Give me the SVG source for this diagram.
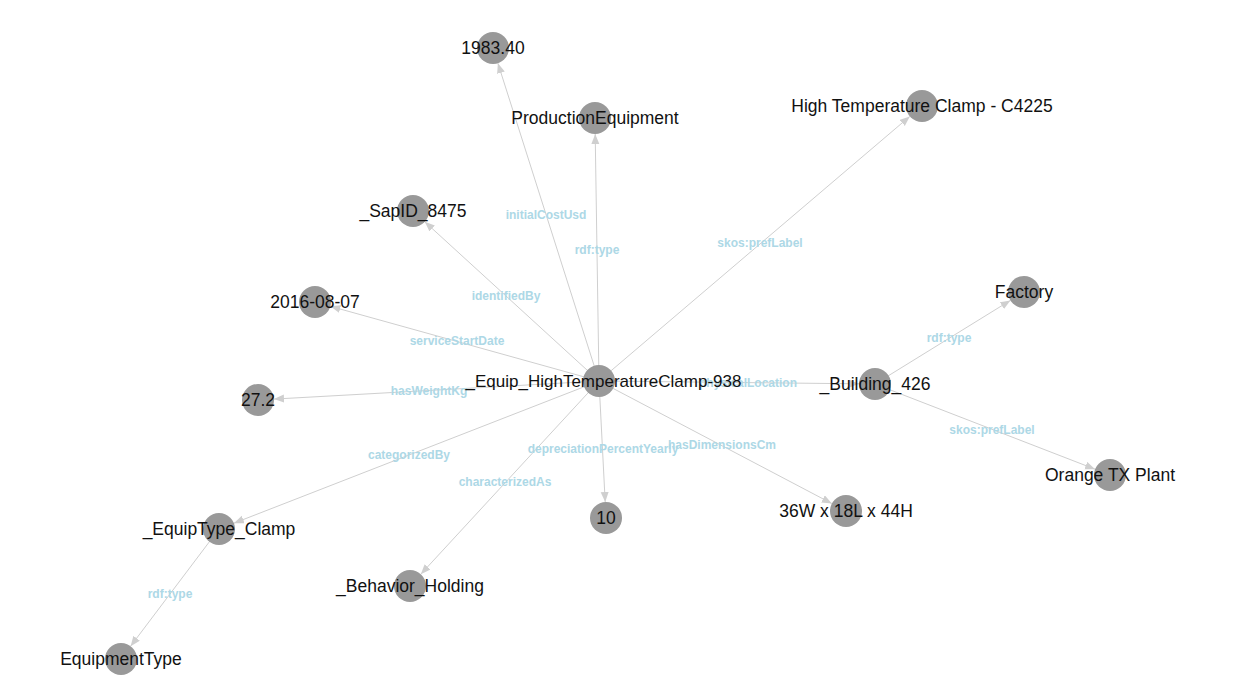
<svg xmlns="http://www.w3.org/2000/svg" width="1241" height="690" viewBox="0 0 1241 690">
<style>
.edge{stroke:#cfcfcf;stroke-width:1;fill:none;marker-end:url(#arr)}
.el{font-family:"Liberation Sans",Arial,sans-serif;font-size:12px;font-weight:bold;fill:#add8e6;text-anchor:middle}
.node circle{fill:#999999}
.node text{font-family:"Liberation Sans",Arial,sans-serif;font-size:17.5px;fill:#111;text-anchor:middle}
</style>
<defs>
<marker id="arr" markerUnits="userSpaceOnUse" markerWidth="11" markerHeight="9" refX="10" refY="4" orient="auto">
<path d="M0,0 L10,4 L0,8 z" fill="#cfcfcf"/>
</marker>
</defs>
<rect width="1241" height="690" fill="#ffffff"/>
<g id="connectors">
<line class="edge" x1="599" y1="381" x2="497.9" y2="63.2"/>
<line class="edge" x1="599" y1="381" x2="595.2" y2="134"/>
<line class="edge" x1="599" y1="381" x2="909.8" y2="116.4"/>
<line class="edge" x1="599" y1="381" x2="424.8" y2="221.8"/>
<line class="edge" x1="599" y1="381" x2="330.4" y2="306.3"/>
<line class="edge" x1="599" y1="381" x2="274" y2="399.1"/>
<line class="edge" x1="599" y1="381" x2="859" y2="383.8"/>
<line class="edge" x1="875" y1="384" x2="1010.4" y2="300.4"/>
<line class="edge" x1="875" y1="384" x2="1095.1" y2="469.2"/>
<line class="edge" x1="599" y1="381" x2="605.2" y2="502"/>
<line class="edge" x1="599" y1="381" x2="831.8" y2="503.5"/>
<line class="edge" x1="599" y1="381" x2="233.9" y2="523.2"/>
<line class="edge" x1="599" y1="381" x2="420.8" y2="574.2"/>
<line class="edge" x1="219" y1="529" x2="130.6" y2="646.2"/>
<text class="el" x="546" y="219">initialCostUsd</text>
<text class="el" x="597" y="254">rdf:type</text>
<text class="el" x="760" y="247">skos:prefLabel</text>
<text class="el" x="506" y="300">identifiedBy</text>
<text class="el" x="457" y="345">serviceStartDate</text>
<text class="el" x="429" y="395">hasWeightKg</text>
<text class="el" x="748" y="387">physicalLocation</text>
<text class="el" x="949" y="342">rdf:type</text>
<text class="el" x="992" y="434">skos:prefLabel</text>
<text class="el" x="409" y="459">categorizedBy</text>
<text class="el" x="603" y="453">depreciationPercentYearly</text>
<text class="el" x="722" y="449">hasDimensionsCm</text>
<text class="el" x="505" y="486">characterizedAs</text>
<text class="el" x="170" y="598">rdf:type</text>
</g>
<g id="n-center" class="node"><circle cx="599" cy="381" r="16"/><text x="603.5" y="387" style="font-size:17px">_Equip_HighTemperatureClamp-938</text></g>
<g id="n-cost" class="node"><circle cx="493" cy="48" r="16"/><text x="493" y="54">1983.40</text></g>
<g id="n-prodequip" class="node"><circle cx="595" cy="118" r="16"/><text x="595" y="124">ProductionEquipment</text></g>
<g id="n-label" class="node"><circle cx="922" cy="106" r="16"/><text x="922" y="112">High Temperature Clamp - C4225</text></g>
<g id="n-sapid" class="node"><circle cx="413" cy="211" r="16"/><text x="413" y="217">_SapID_8475</text></g>
<g id="n-factory" class="node"><circle cx="1024" cy="292" r="16"/><text x="1024" y="298">Factory</text></g>
<g id="n-date" class="node"><circle cx="315" cy="302" r="16"/><text x="315" y="308">2016-08-07</text></g>
<g id="n-building" class="node"><circle cx="875" cy="384" r="16"/><text x="875" y="390">_Building_426</text></g>
<g id="n-weight" class="node"><circle cx="258" cy="400" r="16"/><text x="258" y="406">27.2</text></g>
<g id="n-plant" class="node"><circle cx="1110" cy="475" r="16"/><text x="1110" y="481">Orange TX Plant</text></g>
<g id="n-dep" class="node"><circle cx="606" cy="518" r="16"/><text x="606" y="524">10</text></g>
<g id="n-dims" class="node"><circle cx="846" cy="511" r="16"/><text x="846" y="517">36W x 18L x 44H</text></g>
<g id="n-equiptype" class="node"><circle cx="219" cy="529" r="16"/><text x="219" y="535">_EquipType_Clamp</text></g>
<g id="n-behavior" class="node"><circle cx="410" cy="586" r="16"/><text x="410" y="592">_Behavior_Holding</text></g>
<g id="n-eqtypeclass" class="node"><circle cx="121" cy="659" r="16"/><text x="121" y="665">EquipmentType</text></g>
</svg>
